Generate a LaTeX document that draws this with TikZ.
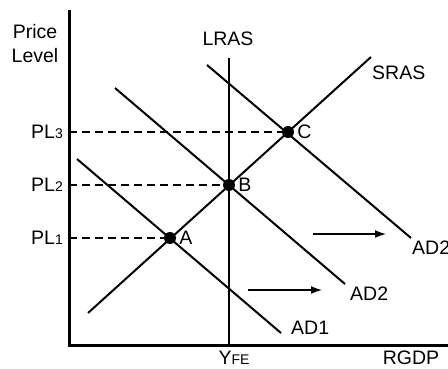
\documentclass[tikz,border=0pt]{standalone}
\usepackage{fontspec}
\setmainfont{Liberation Sans}
\usetikzlibrary{arrows.meta}
\newcommand{\sm}[1]{{\fontsize{14}{14}\selectfont #1}}
\begin{document}
\begin{tikzpicture}[x=1pt, y=-1pt, font=\fontsize{19.5}{24}\selectfont,
    curve/.style={line width=2pt},
    guide/.style={line width=1.5pt, dash pattern=on 8pt off 5pt},
    shift arrow/.style={line width=1.5pt, -{Latex[length=11pt, width=8pt]}},
    lbl/.style={inner sep=0pt, anchor=west},
    eqdot/.style={circle, fill, inner sep=0pt, minimum size=12pt}]
    \useasboundingbox (0,0) rectangle (448,369);

    % axes
    \coordinate (O) at (69,345);
    \draw[line width=3pt] (69,10) -- (O) -- (448,345);
    \node[align=center, inner sep=0pt] (plabel) at (35,44) {Price\\Level};
    \node[inner sep=0pt] (xlabel) at (411,358) {RGDP};

    % equilibrium points
    \node[eqdot] (A) at (170,238) {};
    \node[eqdot] (B) at (229,185) {};
    \node[eqdot] (C) at (288,132) {};
    \node[lbl] at ([xshift=3pt]A.east) {A};
    \node[lbl] at ([xshift=3pt]B.east) {B};
    \node[lbl] at ([xshift=3pt]C.east) {C};

    % price levels
    \foreach \p/\n in {A/1, B/2, C/3}{
        \coordinate (ax\n) at (O |- \p);
        \draw[guide] (ax\n) -- (\p);
        \node[inner sep=0pt, anchor=east] (pl\n) at ([xshift=-6pt]ax\n) {PL\sm{\n}};
    }

    % LRAS
    \coordinate (lrastop) at (229,58);
    \draw[curve] (lrastop) -- (B) -- (B |- O);
    \node[inner sep=0pt] (lras) at (228,39) {LRAS};
    \node[inner sep=0pt] (yfe) at (234,358) {Y\sm{FE}};

    % SRAS
    \coordinate (sraslo) at (88,313);
    \coordinate (srashi) at (371,57);
    \draw[curve] (sraslo) -- (srashi);
    \node[lbl] (sras) at (372,73) {SRAS};

    % aggregate demand
    \draw[curve] (77,159) -- (281,333);
    \node[lbl] (ad1) at (291,328) {AD1};
    \draw[curve] (115,88) -- (345,284);
    \node[lbl] (ad2) at (350,294) {AD2};
    \draw[curve] (207,65) -- (411,238);
    \node[lbl] (ad3) at (412,248) {AD2};

    % shifts
    \draw[shift arrow] (248,290) -- (322,290);
    \draw[shift arrow] (313,234) -- (386,234);
\end{tikzpicture}
\end{document}
